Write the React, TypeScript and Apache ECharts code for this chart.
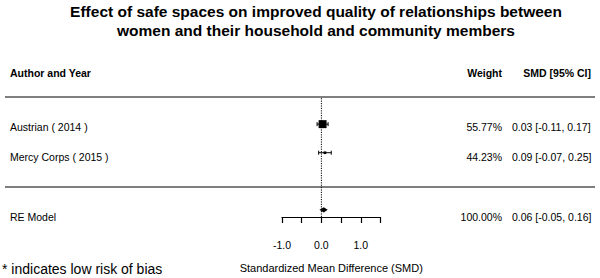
import React, { useEffect, useRef } from 'react';
import * as echarts from 'echarts';

// ---- data ----
const studies = ['Austrian ( 2014 )', 'Mercy Corps ( 2015 )'];
const weights = [55.77, 44.23];
const smd = [0.03, 0.09];
const ciLow = [-0.11, -0.07];
const ciHigh = [0.17, 0.25];
const reLabel = 'RE Model';
const reWeight = 100.0;
const reEst = 0.06;
const reLow = -0.05;
const reHigh = 0.16;
const xLabelled = [-1, 0, 1];
const titleLines = [
  'Effect of safe spaces on improved quality of relationships between',
  'women and their household and community members',
];
const headers = ['Author and Year', 'Weight', 'SMD [95% CI]'];
const axisTitle = 'Standardized Mean Difference (SMD)';
const footnote = '* indicates low risk of bias';

// ---- layout ----
const studyRows = [2, 1];
const reRow = -1;
const headerRow = 3.8;
const sepRows = [3, 0];
const yMin = -1.25;
const yMax = 4;
const FONT = '"Liberation Sans", Arial, sans-serif';
const COL_LABEL = 10;
const COL_WEIGHT = 502;
const COL_SMD = 512;
const COL_SMD_RIGHT = 591;

const f2 = (v: number) => v.toFixed(2);
const smdText = (e: number, l: number, h: number) => `${f2(e)} [${f2(l)}, ${f2(h)}]`;

export default function App() {
  const ref = useRef<HTMLDivElement>(null);
  useEffect(() => {
    document.body.style.margin = '0';
    if (!ref.current) return;
    const chart = echarts.init(ref.current, undefined, { renderer: 'svg' });
    const wMin = Math.min(...weights);
    const wMax = Math.max(...weights);
    const boxSize = (w: number) => 5.3 * (0.5 + (w - wMin) / (wMax - wMin || 1));

    const textRows = [
      ...studies.map((s, i) => ({ y: studyRows[i], label: s, w: weights[i].toFixed(2) + '%', smd: smdText(smd[i], ciLow[i], ciHigh[i]), bold: false })),
      { y: reRow, label: reLabel, w: reWeight.toFixed(2) + '%', smd: smdText(reEst, reLow, reHigh), bold: false },
      { y: headerRow, label: headers[0], w: headers[1], smd: headers[2], bold: true },
    ];

    const txt = (x: number, y: number, t: string, align: string, bold: boolean) => ({
      type: 'text',
      x,
      y,
      style: {
        text: t,
        textAlign: align,
        textVerticalAlign: 'middle',
        font: `${bold ? 'bold ' : ''}10.5px ${FONT}`,
        fill: '#000',
      },
    });

    chart.setOption({
      animation: false,
      grid: [
        { left: 282, width: 98.5, top: 67, height: 157.5 },
        { left: 0, right: 0, top: 67, height: 157.5 },
      ],
      xAxis: [
        {
          gridIndex: 0,
          type: 'value',
          min: -1,
          max: 1.5,
          interval: 0.5,
          axisLine: { show: true, onZero: false, lineStyle: { color: '#000', width: 1.2 } },
          axisTick: { show: true, length: 6, lineStyle: { color: '#000', width: 1.2 } },
          splitLine: { show: false },
          axisLabel: {
            margin: 22,
            color: '#000',
            fontSize: 10.5,
            fontFamily: FONT,
            formatter: (v: number) => (xLabelled.some((t) => Math.abs(t - v) < 1e-9) ? v.toFixed(1) : ''),
          },
          name: axisTitle,
          nameLocation: 'middle',
          nameGap: 45,
          nameTextStyle: { color: '#000', fontSize: 11, fontFamily: FONT },
        },
        { gridIndex: 1, type: 'value', min: 0, max: 600, show: false },
      ],
      yAxis: [
        { gridIndex: 0, type: 'value', min: yMin, max: yMax, show: false },
        { gridIndex: 1, type: 'value', min: yMin, max: yMax, show: false },
      ],
      series: [
        {
          type: 'line',
          xAxisIndex: 0,
          yAxisIndex: 0,
          data: [[0, yMin], [0, 2.93]],
          symbol: 'none',
          lineStyle: { color: '#000', width: 1, type: [1.2, 1.2] },
          silent: true,
        },
        {
          type: 'custom',
          xAxisIndex: 0,
          yAxisIndex: 0,
          clip: false,
          data: studies.map((_, i) => [smd[i], studyRows[i]]),
          renderItem: (params: any, api: any) => {
            const i = params.dataIndex;
            const y = studyRows[i];
            const lo = api.coord([ciLow[i], y]);
            const hi = api.coord([ciHigh[i], y]);
            const c = api.coord([smd[i], y]);
            const s = boxSize(weights[i]);
            const st = { stroke: '#000', lineWidth: 1 };
            return {
              type: 'group',
              children: [
                { type: 'line', shape: { x1: lo[0], y1: lo[1], x2: hi[0], y2: hi[1] }, style: st },
                { type: 'line', shape: { x1: lo[0], y1: lo[1] - 2, x2: lo[0], y2: lo[1] + 2 }, style: st },
                { type: 'line', shape: { x1: hi[0], y1: hi[1] - 2, x2: hi[0], y2: hi[1] + 2 }, style: st },
                { type: 'rect', shape: { x: c[0] - s / 2, y: c[1] - s / 2, width: s, height: s }, style: { fill: '#000' } },
              ],
            };
          },
        },
        {
          type: 'custom',
          xAxisIndex: 0,
          yAxisIndex: 0,
          clip: false,
          data: [[reEst, reRow]],
          renderItem: (_p: any, api: any) => {
            const lo = api.coord([reLow, reRow]);
            const hi = api.coord([reHigh, reRow]);
            const c = api.coord([reEst, reRow]);
            const h = 2.6;
            return {
              type: 'polygon',
              shape: { points: [[lo[0], lo[1]], [c[0], c[1] - h], [hi[0], hi[1]], [c[0], c[1] + h]] },
              style: { fill: '#000' },
            };
          },
        },
        {
          type: 'custom',
          xAxisIndex: 1,
          yAxisIndex: 1,
          clip: false,
          data: sepRows.map((r) => [300, r]),
          renderItem: (params: any, api: any) => {
            const r = sepRows[params.dataIndex];
            const a = api.coord([5, r]);
            const b = api.coord([595, r]);
            return { type: 'line', shape: { x1: a[0], y1: a[1], x2: b[0], y2: b[1] }, style: { stroke: '#000', lineWidth: 1.2 } };
          },
        },
        {
          type: 'custom',
          xAxisIndex: 1,
          yAxisIndex: 1,
          clip: false,
          data: textRows.map((r) => [300, r.y]),
          renderItem: (params: any, api: any) => {
            const r = textRows[params.dataIndex];
            const p = api.coord([0, r.y]);
            return {
              type: 'group',
              children: [
                txt(COL_LABEL, p[1], r.label, 'left', r.bold),
                txt(COL_WEIGHT, p[1], r.w, 'right', r.bold),
                r.bold ? txt(COL_SMD_RIGHT, p[1], r.smd, 'right', true) : txt(COL_SMD, p[1], r.smd, 'left', false),
              ],
            };
          },
        },
      ],
      graphic: [
        ...titleLines.map((t, i) => ({
          type: 'text',
          x: 316,
          y: 11 + i * 19.5,
          style: { text: t, textAlign: 'center', textVerticalAlign: 'middle', font: `bold 15.5px ${FONT}`, fill: '#000' },
        })),
        {
          type: 'text',
          x: 2,
          y: 269,
          style: { text: footnote, textAlign: 'left', textVerticalAlign: 'middle', font: `14px ${FONT}`, fill: '#000' },
        },
      ],
    });
    return () => chart.dispose();
  }, []);
  return <div ref={ref} style={{ width: 600, height: 278 }} />;
}
